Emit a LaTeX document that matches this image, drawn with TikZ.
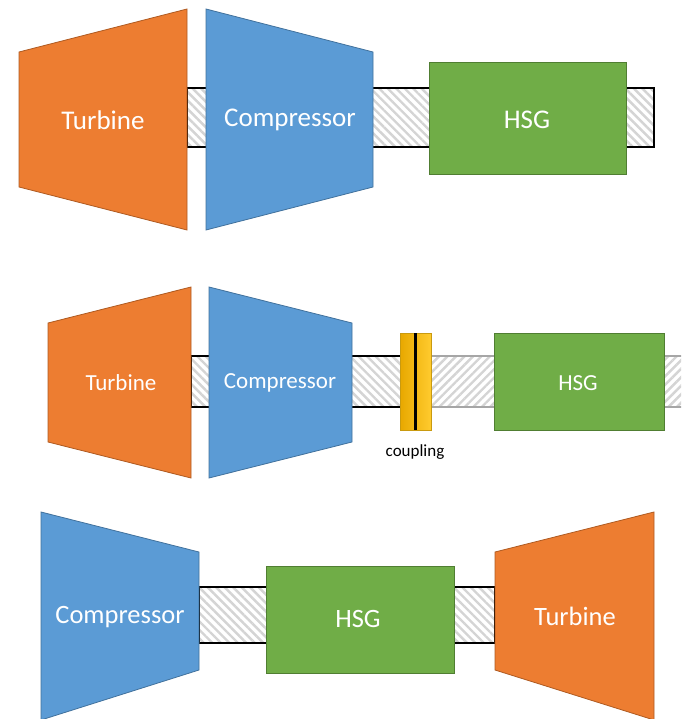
\documentclass[tikz,border=0pt]{standalone}
\usepackage{fontspec}
\setmainfont{Carlito}
\usetikzlibrary{patterns.meta}
\definecolor{turbfill}{HTML}{ED7D31}
\definecolor{turbline}{HTML}{AE5A21}
\definecolor{compfill}{HTML}{5B9BD5}
\definecolor{compline}{HTML}{41719C}
\definecolor{hsgfill}{HTML}{70AD47}
\definecolor{hsgline}{HTML}{507E32}
\definecolor{hatch}{HTML}{D4D4D4}
\definecolor{goldL}{HTML}{E8A800}
\definecolor{goldR}{HTML}{FFCB2E}
\definecolor{goldline}{HTML}{C99A10}
\tikzset{
  turb/.style={fill=turbfill, draw=turbline, line width=0.8pt, line join=miter},
  comp/.style={fill=compfill, draw=compline, line width=0.8pt, line join=miter},
  hsg/.style={fill=hsgfill, draw=hsgline, line width=1pt},
  shaftback/.style={preaction={fill=white}, pattern={Lines[angle=-45,distance=6pt,line width=2.4pt]}, pattern color=hatch, draw=black, line width=1.4pt},
  shaftfwd/.style={preaction={fill=white}, pattern={Lines[angle=45,distance=6pt,line width=2.4pt]}, pattern color=hatch, draw=gray!70, line width=1.2pt},
  lbl/.style={text=white, inner sep=0pt, anchor=center},
  big/.style={lbl, font=\fontsize{27}{32}\selectfont},
  mid/.style={lbl, font=\fontsize{23}{28}\selectfont},
  low/.style={lbl, font=\fontsize{26.5}{31}\selectfont},
}
\begin{document}
\begin{tikzpicture}[x=1pt, y=-1pt]
\useasboundingbox (0,0) rectangle (681,719);
\clip (0,0) rectangle (681,719);

% ---------- direct-drive arrangement ----------
\draw[shaftback] (187,88) rectangle (654,147);
\draw[turb] (19,52) -- (187,9) -- (187,230) -- (19,187) -- cycle;
\draw[comp] (206,9) -- (373,52) -- (373,187) -- (206,230) -- cycle;
\draw[hsg] (429,63) rectangle (626,175);
\node[big] (t1) at (103,120) {Turbine};
\node[big] (c1) at (290,120) {Compressor};
\node[big] (h1) at (527,120) {HSG};

% ---------- coupled arrangement ----------
\draw[shaftback] (191,356) rectangle (401,407);
\draw[shaftfwd] (431,356) rectangle (700,407);
\draw[turb] (48,323) -- (191,287) -- (191,478) -- (48,442) -- cycle;
\draw[comp] (209,287) -- (352,323) -- (352,442) -- (209,478) -- cycle;
\draw[left color=goldL, right color=goldR, draw=goldline, line width=0.6pt] (400,333) rectangle (431,430);
\draw[black, line width=2.6pt] (415.5,333) -- (415.5,430);
\draw[hsg] (494,333) rectangle (664,430);
\node[mid] (t2) at (121,383) {Turbine};
\node[mid] (c2) at (280,383) {Compressor};
\node[mid] (h2) at (578,383) {HSG};
\node[inner sep=0pt, font=\fontsize{17}{20}\selectfont] (cp) at (415,452) {coupling};

% ---------- overhung arrangement ----------
\draw[shaftback] (199,587) rectangle (495,643);
\draw[comp] (41,512) -- (199,552) -- (199,670) -- (41,720) -- cycle;
\draw[hsg] (266,566) rectangle (454,673);
\draw[turb] (495,552) -- (654,512) -- (654,720) -- (495,670) -- cycle;
\node[low] (c3) at (120,617) {Compressor};
\node[low] (h3) at (358,619) {HSG};
\node[low] (t3) at (575,616) {Turbine};
\end{tikzpicture}
\end{document}
